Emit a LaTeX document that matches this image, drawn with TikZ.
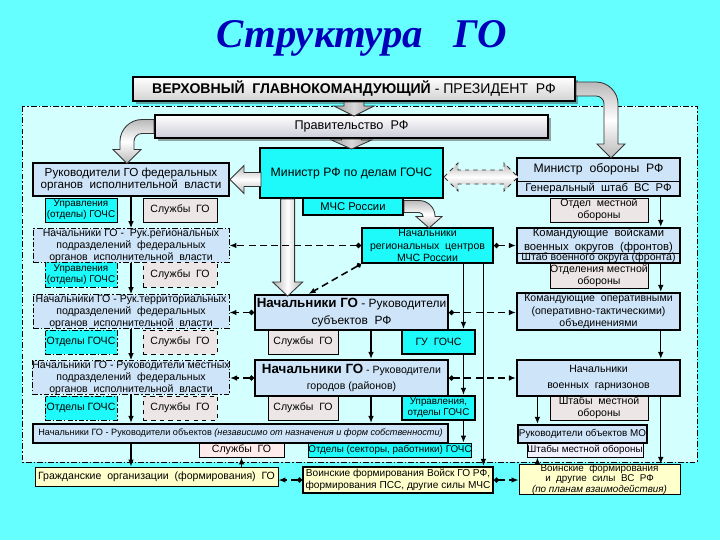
\documentclass[tikz,border=0pt]{standalone}
\usepackage{fontspec}
\setmainfont{Liberation Sans}
\usetikzlibrary{arrows.meta,calc,shadows,positioning}

\definecolor{fon}{RGB}{102,255,255}
\definecolor{blednyi}{RGB}{212,255,255}
\definecolor{golub}{RGB}{206,228,248}
\definecolor{biruza}{RGB}{30,250,250}
\definecolor{seryi}{RGB}{236,230,230}
\definecolor{zhelt}{RGB}{255,255,204}
\definecolor{sinii}{RGB}{0,0,185}

\tikzset{
  ugol/.style args={#1/#2/#3/#4}{minimum width=(#3-#1)*0.025cm, minimum height=(#4-#2)*0.025cm, at={({(#1+#3)/2},{(#2+#4)/2})}},
  box/.style={draw, inner sep=0pt, align=center, line width=0.6pt, font=\fontsize{7.5}{8.6}\selectfont},
  melko/.style={font=\fontsize{7}{7.8}\selectfont},
  tolst/.style={line width=1.5pt},
  shtrih/.style={dash pattern=on 4pt off 1.5pt on 1pt off 1.5pt},
  glav/.style={box, tolst, top color=white, bottom color=gray!35, drop shadow={shadow xshift=2pt, shadow yshift=-2pt, fill=black!70}},
  prav/.style={box, tolst, top color=white, bottom color=blue!15!gray!35, drop shadow={shadow xshift=2pt, shadow yshift=-2pt, fill=black!70}},
  gubox/.style={box, tolst, fill=golub},
  fedbox/.style={box, shtrih, fill=golub},
  cbox/.style={box, tolst, fill=biruza},
  cboxt/.style={box, fill=biruza},
  sluzhba/.style={box, fill=seryi},
  zhbox/.style={box, fill=zhelt},
  podch/.style={line width=0.9pt, -{Latex[length=5pt,width=4pt]}},
  vzaim/.style={line width=1.1pt, dash pattern=on 5pt off 3pt, {Circle[length=3.5pt]}-{Latex[length=5pt,width=4pt]}},
  strelkav/.style={draw=black!80, line width=0.6pt, left color=gray!60, right color=gray!60, middle color=white},
  strelkah/.style={draw=black!80, line width=0.6pt, top color=gray!55, bottom color=gray!55, middle color=white},
  strelkat/.style={draw=black!80, line width=0.6pt, left color=gray!75, right color=gray!75, middle color=gray!30}
}

\begin{document}
\begin{tikzpicture}[x=0.025cm,y=-0.025cm]
%fon
\fill[fon] (0,0) rectangle (720,540);
\useasboundingbox (0,0) rectangle (720,540);
\draw[shtrih, thin, fill=blednyi] (22,106) rectangle (697,462);
%zagolovok
\node[text=sinii] (zag) at (362,38) {\fontspec{Liberation Serif}\bfseries\itshape\fontsize{29}{32}\selectfont Структура\ \ \ ГО};

%verh
\node[glav, font=\fontsize{10}{12}\selectfont, ugol=133/77/575/101] (prez) {\textbf{ВЕРХОВНЫЙ\ \ ГЛАВНОКОМАНДУЮЩИЙ}\ -\ ПРЕЗИДЕНТ\ \ РФ};
\node[prav, font=\fontsize{9}{11}\selectfont, ugol=155/115/548/138] (pravit) {Правительство\ \ РФ};
\node[cbox, font=\fontsize{8.7}{10}\selectfont, ugol=260/148/443/198] (minch) {Министр РФ по делам ГОЧС};
\node[cbox, font=\fontsize{8}{9}\selectfont, ugol=303/198/403/215] (mchs) {МЧС России};

%levaya kolonka
\node[gubox, font=\fontsize{8.3}{9}\selectfont, ugol=33/163/229/196] (rukfed) {Руководители ГО федеральных\\органов\ \ исполнительной\ \ власти};
\node[cboxt, melko, ugol=45/198/117/222] (upr1) {Управления\\(отделы) ГОЧС};
\node[sluzhba, ugol=143/198/217/222] (sl1) {Службы\ \ ГО};
\node[fedbox, ugol=33/229/229/262] (nachreg) {Начальники ГО\ -\ \ Рук.региональных\\подразделений\ \ федеральных\\органов\ \ исполнительной\ \ власти};
\node[cboxt, melko, shtrih, ugol=45/262/117/287] (upr2) {Управления\\(отделы) ГОЧС};
\node[sluzhba, dashed, ugol=143/262/217/287] (sl2) {Службы\ \ ГО};
\node[fedbox, ugol=33/295/229/328] (nachter) {Начальники ГО - Рук.территориальных\\подразделений\ \ федеральных\\органов\ \ исполнительной\ \ власти};
\node[cboxt, shtrih, ugol=45/330/117/354] (otd3) {Отделы ГОЧС};
\node[sluzhba, dashed, ugol=143/330/217/354] (sl3) {Службы\ \ ГО};
\node[fedbox, ugol=33/361/229/394] (nachmest) {Начальники ГО - Руководители местных\\подразделений\ \ федеральных\\органов\ \ исполнительной\ \ власти};
\node[cboxt, shtrih, ugol=45/396/117/420] (otd4) {Отделы ГОЧС};
\node[sluzhba, dashed, ugol=143/396/217/420] (sl4) {Службы\ \ ГО};
\node[gubox, font=\fontsize{6.5}{7.5}\selectfont, ugol=33/424/448/443] (nachobj) {Начальники ГО - Руководители объектов \textit{(независимо от назначения и форм собственности)}};
\node[sluzhba, fill=red!8, ugol=199/443/284/457] (sl5) {Службы\ \ ГО};
\node[cboxt, melko, ugol=310/443/470/457] (otd5) {Отделы (секторы, работники) ГОЧС};

%srednyaya kolonka
\node[cbox, ugol=362/228/493/263] (nachrc) {Начальники\\региональных\ \ центров\\МЧС России};
\node[gubox, font=\fontsize{8.5}{11.5}\selectfont, ugol=255/295/448/330] (nachsub) {{\fontsize{9.5}{11}\selectfont\textbf{Начальники ГО}} - Руководители\\субъектов\ \ РФ};
\node[sluzhba, ugol=268/330/338/354] (sl6) {Службы\ \ ГО};
\node[cbox, ugol=402/330/475/354] (gu) {ГУ\ \ ГОЧС};
\node[gubox, font=\fontsize{7.5}{11.5}\selectfont, ugol=255/360/448/396] (nachgor) {{\fontsize{9.5}{11}\selectfont\textbf{Начальники ГО}} - Руководители\\городов (районов)};
\node[sluzhba, ugol=268/396/338/420] (sl7) {Службы\ \ ГО};
\node[cbox, melko, ugol=402/396/475/420] (uprgor) {Управления,\\отделы ГОЧС};

%pravaya kolonka
\node[box, fill=golub, font=\fontsize{8.7}{10}\selectfont, ugol=517/158/680/181] (minob1) {Министр\ \ обороны\ \ РФ};
\node[box, fill=golub, font=\fontsize{8}{9}\selectfont, ugol=517/181/680/196] (minob2) {Генеральный\ \ штаб\ \ ВС\ \ РФ};
\node[draw, tolst, inner sep=0pt, ugol=517/158/680/196] (minob) {};
\node[sluzhba, ugol=550/198/648/222] (otdmo) {Отдел\ \ местной\\обороны};
\node[box, fill=golub, font=\fontsize{8}{9.4}\selectfont, ugol=517/228/680/253] (komvo1) {Командующие\ \ войсками\\военных\ \ округов\ \ (фронтов)};
\node[box, fill=golub, ugol=517/253/680/263] (komvo2) {Штаб военного округа (фронта)};
\node[draw, tolst, inner sep=0pt, ugol=517/228/680/263] (komvo) {};
\node[sluzhba, ugol=550/263/648/288] (otdlmo) {Отделения местной\\обороны};
\node[gubox, ugol=517/293/680/330] (komop) {Командующие\ \ оперативными\\(оперативно-тактическими)\\объединениями};
\node[gubox, font=\fontsize{7.5}{11}\selectfont, ugol=517/360/680/396] (nachgarn) {Начальники\\военных\ \ гарнизонов};
\node[sluzhba, ugol=550/396/648/420] (shtmo) {Штабы\ \ местной\\обороны};
\node[gubox, melko, ugol=518/425/647/443] (rukmo) {Руководители объектов МО};
\node[sluzhba, melko, fill=blue!6, ugol=527/443/643/457] (shtmo2) {Штабы местной обороны};

%sily
\node[zhbox, ugol=35/467/278/486] (grazhd) {Гражданские\ \ организации\ \ (формирования)\ \ ГО};
\node[zhbox, tolst, font=\fontsize{7.2}{8.6}\selectfont, ugol=303/467/493/493] (voingo) {Воинские формирования Войск ГО РФ,\\формирования ПСС, другие силы МЧС};
\node[zhbox, font=\fontsize{7}{6.2}\selectfont, ugol=519/467/680/492] (voinvs) {Воинские\ \ формирования\\и\ \ другие\ \ силы\ \ ВС\ \ РФ\\\textit{(по планам взаимодействия)}};

%blochnye strelki
\draw[strelkat, shift={(prez.south)}] (-10,0) -- (10,0) -- (10,4) -- (20,4) -- (0,14) -- (-20,4) -- (-10,4) -- cycle;
\draw[strelkat, shift={(pravit.south)}] (-10,0) -- (10,0) -- (10,1) -- (20,1) -- (0,10) -- (-20,1) -- (-10,1) -- cycle;
\draw[strelkah, shift={(prez.east)}] (0,-7) -- (20,-7) .. controls (32,-7) and (42,3) .. (42,15) -- (42,55) -- (49,55) -- (35,69) -- (21,55) -- (28,55) -- (28,15) .. controls (28,10.6) and (24.4,7) .. (20,7) -- (0,7) -- cycle;
\draw[strelkah, shift={(pravit.west)}] (0,-7) -- (-12,-7) .. controls (-24,-7) and (-34,3) .. (-34,15) -- (-34,23) -- (-41,23) -- (-27,37) -- (-13,23) -- (-20,23) -- (-20,15) .. controls (-20,10.6) and (-16.4,7) .. (-12,7) -- (0,7) -- cycle;
\draw[strelkah, shift={(mchs.east)}] (0,-6) -- (15,-6) .. controls (23.8,-6) and (31,1.2) .. (31,10) -- (38,10) -- (25,21.5) -- (12,10) -- (19,10) .. controls (19,7.8) and (17.2,6) .. (15,6) -- (0,6) -- cycle;
\draw[strelkah, shift={(rukfed.east)}] (0,0) -- (14,-14) -- (14,-7) -- (31,-7) -- (31,7) -- (14,7) -- (14,14) -- cycle;
\draw[strelkah, dashed, shift={(minch.east |- minob.west)}] (0,0) -- (14,-14) -- (14,-7) -- (60,-7) -- (60,-14) -- (74,0) -- (60,14) -- (60,7) -- (14,7) -- (14,14) -- cycle;
\draw[strelkav, shift={($(minch.south west)!.155!(minch.south east)$)}] (-7,0) -- (7,0) -- (7,83) -- (15,83) -- (0,97) -- (-15,83) -- (-7,83) -- cycle;

%podchinenie
\draw[podch] (rukfed) -- (nachreg);
\draw[podch] (nachreg) -- (nachter);
\draw[podch] (nachter) -- (nachmest);
\draw[podch] (nachmest.south) -- (nachmest.south |- nachobj.north);
\draw[podch] (nachmest.south |- nachobj.south) -- (nachmest.south |- grazhd.north);
\draw[podch] (sl5.south |- grazhd.north) -- (sl5.south);
\coordinate (sx) at ($(nachsub.south west)!.6!(nachsub.south east)$);
\draw[podch] (sx) -- (sx |- nachgor.north);
\draw[podch] (sx |- nachgor.south) -- (sx |- nachobj.north);
\coordinate (mx) at ($(nachrc.south west)!.77!(nachrc.south east)$);
\coordinate (my) at ($(nachrc.south west)!.92!(nachrc.south east)$);
\draw[podch] (mx) -- (mx |- gu.north);
\draw[podch] (mx |- gu.south) -- (mx |- uprgor.north);
\draw[podch] (mx |- uprgor.south) -- (mx |- otd5.north);
\draw[podch] (my) -- (my |- voingo.north);
\coordinate (rx) at ($(minob.south west)!.877!(minob.south east)$);
\draw[podch] (rx) -- (rx |- komvo.north);
\draw[podch] (rx |- komvo.south) -- (rx |- komop.north);
\draw[podch] (rx |- komop.south) -- (rx |- nachgarn.north);
\draw[podch] (rx |- nachgarn.south) -- (rx |- voinvs.north);
\coordinate (gx) at ($(nachgarn.south west)!.13!(nachgarn.south east)$);
\draw[podch] (gx) -- (gx |- rukmo.north);
\draw[podch] (gx |- voinvs.north) -- (gx |- shtmo2.south);

%vzaimodeistvie
\draw[vzaim] (nachrc.west) -- (nachrc.west -| nachreg.east);
\draw[vzaim] (nachrc.east) -- (nachrc.east -| komvo.west);
\draw[vzaim] (nachrc.south west) -- ($(nachsub.north west)!.28!(nachsub.north east)$);
\draw[vzaim] (nachsub.west) -- (nachsub.west -| nachter.east);
\draw[vzaim] (nachsub.east) -- (nachsub.east -| komop.west);
\draw[vzaim] (nachgor.west) -- (nachgor.west -| nachmest.east);
\draw[vzaim] (nachgor.east) -- (nachgor.east -| nachgarn.west);
\draw[vzaim] (voingo.west) -- (voingo.west -| grazhd.east);
\draw[vzaim] (voingo.east) -- (voingo.east -| voinvs.west);
\end{tikzpicture}
\end{document}
